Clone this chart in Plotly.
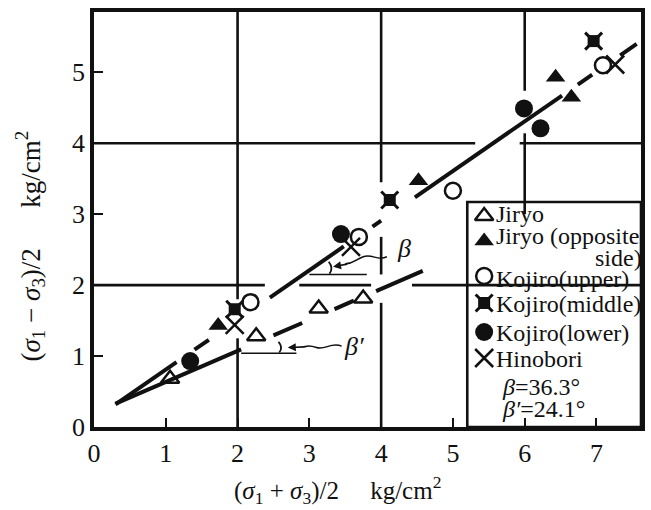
import plotly.graph_objects as go

# ---------------- data ----------------
jiryo_x = [1.06, 2.26, 3.13, 3.75]
jiryo_y = [0.68, 1.28, 1.67, 1.81]

jiryo_opp_x = [1.73, 4.52, 6.43, 6.65]
jiryo_opp_y = [1.43, 3.47, 4.93, 4.65]

kojiro_upper_x = [2.18, 3.69, 5.00, 7.09]
kojiro_upper_y = [1.76, 2.68, 3.33, 5.10]

kojiro_middle_x = [1.96, 4.12, 6.96]
kojiro_middle_y = [1.66, 3.20, 5.44]

kojiro_lower_x = [1.34, 3.44, 5.99, 6.22]
kojiro_lower_y = [0.93, 2.72, 4.49, 4.21]

hinobori_x = [1.96, 3.58, 7.26]
hinobori_y = [1.44, 2.54, 5.11]

# fitted lines (end points) and their drawn pieces
upper_line_x = [0.30, 7.56]
upper_line_y = [0.32, 5.40]
upper_pieces = [(0.30, 1.15), (1.40, 1.60), (2.45, 3.48), (3.88, 4.00),
                (4.47, 6.52), (6.74, 6.94), (7.33, 7.56)]

lower_line_x = [0.30, 4.58]
lower_line_y = [0.33, 2.20]
lower_pieces = [(0.30, 2.05), (2.50, 2.90), (3.35, 3.62), (3.93, 4.58)]

x_ticks = [0, 1, 2, 3, 4, 5, 6, 7]
y_ticks = [0, 1, 2, 3, 4, 5]

legend_labels = ["Jiryo", "Jiryo (opposite", "Kojiro(upper)", "Kojiro(middle)",
                 "Kojiro(lower)", "Hinobori"]
beta_text = "<i>β</i>=36.3°"
beta2_text = "<i>β′</i>=24.1°"

FONT = "Liberation Serif, Times New Roman, DejaVu Serif, serif"
BLACK = "#111111"
NB = "\u00a0"


def line_y(xs, ys, x):
    return ys[0] + (ys[1] - ys[0]) * (x - xs[0]) / (xs[1] - xs[0])


fig = go.Figure()

# regression lines, drawn piecewise (broken line as in the original)
for xs, ys, pieces in [(upper_line_x, upper_line_y, upper_pieces),
                       (lower_line_x, lower_line_y, lower_pieces)]:
    px, py = [], []
    for a, b in pieces:
        px += [a, b, None]
        py += [line_y(xs, ys, a), line_y(xs, ys, b), None]
    fig.add_trace(go.Scatter(x=px, y=py, mode="lines",
                             line=dict(color=BLACK, width=4),
                             showlegend=False, hoverinfo="skip"))

fig.add_trace(go.Scatter(x=jiryo_x, y=jiryo_y, mode="markers", showlegend=False,
                         marker=dict(symbol="triangle-up-open", size=16,
                                     line=dict(color=BLACK, width=2.5), color=BLACK)))
fig.add_trace(go.Scatter(x=jiryo_opp_x, y=jiryo_opp_y, mode="markers", showlegend=False,
                         marker=dict(symbol="triangle-up", size=17, color=BLACK,
                                     line=dict(width=0))))
fig.add_trace(go.Scatter(x=kojiro_upper_x, y=kojiro_upper_y, mode="markers", showlegend=False,
                         marker=dict(symbol="circle", size=16, color="white",
                                     line=dict(color=BLACK, width=2.5))))
fig.add_trace(go.Scatter(x=kojiro_middle_x, y=kojiro_middle_y, mode="markers", showlegend=False,
                         marker=dict(symbol="x-thin-open", size=17,
                                     line=dict(color=BLACK, width=3), color=BLACK)))
fig.add_trace(go.Scatter(x=kojiro_middle_x, y=kojiro_middle_y, mode="markers", showlegend=False,
                         marker=dict(symbol="square", size=12, color=BLACK,
                                     line=dict(width=0))))
fig.add_trace(go.Scatter(x=kojiro_lower_x, y=kojiro_lower_y, mode="markers", showlegend=False,
                         marker=dict(symbol="circle", size=18, color=BLACK,
                                     line=dict(width=0))))
fig.add_trace(go.Scatter(x=hinobori_x, y=hinobori_y, mode="markers", showlegend=False,
                         marker=dict(symbol="x-thin-open", size=18,
                                     line=dict(color=BLACK, width=2.5), color=BLACK)))

# ---------------- hand-drawn legend (on an overlay axis 0..1) ----------------
W, H, L, B = 551.0, 415.0, 94.0, 427.0


def ppx(x):
    return (x - L) / W


def ppy(y):
    return (B - y) / H


leg_mx = ppx(487)
leg_rows = [ppy(216), ppy(241), ppy(276), ppy(303), ppy(332), ppy(358)]
leg_syms = [dict(symbol="triangle-up-open", size=16, color=BLACK, line=dict(color=BLACK, width=2.5)),
            dict(symbol="triangle-up", size=17, color=BLACK, line=dict(width=0)),
            dict(symbol="circle", size=16, color="white", line=dict(color=BLACK, width=2.5)),
            dict(symbol="square", size=12, color=BLACK, line=dict(width=0)),
            dict(symbol="circle", size=18, color=BLACK, line=dict(width=0)),
            dict(symbol="x-thin-open", size=18, color=BLACK, line=dict(color=BLACK, width=2.5))]
for yv, sym in zip(leg_rows, leg_syms):
    fig.add_trace(go.Scatter(x=[leg_mx], y=[yv], mode="markers", marker=sym,
                             xaxis="x2", yaxis="y2", showlegend=False, hoverinfo="skip"))
fig.add_trace(go.Scatter(x=[leg_mx], y=[leg_rows[3]], mode="markers",
                         marker=dict(symbol="x-thin-open", size=17, color=BLACK,
                                     line=dict(color=BLACK, width=3)),
                         xaxis="x2", yaxis="y2", showlegend=False, hoverinfo="skip"))

annotations = []
LEGF = 24
text_rows = [214, 236, 279, 304, 333, 359]
for lab, ty in zip(legend_labels, text_rows):
    annotations.append(dict(x=ppx(497), y=ppy(ty), xref="paper", yref="paper",
                            text=lab, showarrow=False, xanchor="left", yanchor="middle",
                            font=dict(family=FONT, size=LEGF, color=BLACK)))
annotations.append(dict(x=ppx(648), y=ppy(258), xref="paper", yref="paper",
                        text="side)", showarrow=False, xanchor="right", yanchor="middle",
                        font=dict(family=FONT, size=LEGF, color=BLACK)))
annotations.append(dict(x=ppx(503), y=ppy(387), xref="paper", yref="paper",
                        text=beta_text, showarrow=False, xanchor="left", yanchor="middle",
                        font=dict(family=FONT, size=24, color=BLACK)))
annotations.append(dict(x=ppx(503), y=ppy(409), xref="paper", yref="paper",
                        text=beta2_text, showarrow=False, xanchor="left", yanchor="middle",
                        font=dict(family=FONT, size=24, color=BLACK)))

# beta labels in the plot
annotations.append(dict(x=4.32, y=2.52, xref="x", yref="y", text="<i>β</i>",
                        showarrow=False, font=dict(family=FONT, size=26, color=BLACK)))
annotations.append(dict(x=3.62, y=1.13, xref="x", yref="y", text="<i>β′</i>",
                        showarrow=False, font=dict(family=FONT, size=26, color=BLACK)))
# arrow heads
annotations.append(dict(x=3.33, y=2.26, ax=3.55, ay=2.30, xref="x", yref="y",
                        axref="x", ayref="y", text="", showarrow=True,
                        arrowhead=2, arrowsize=1, arrowwidth=1.6, arrowcolor=BLACK))
annotations.append(dict(x=2.70, y=1.12, ax=2.95, ay=1.13, xref="x", yref="y",
                        axref="x", ayref="y", text="", showarrow=True,
                        arrowhead=2, arrowsize=1, arrowwidth=1.6, arrowcolor=BLACK))

# axis titles
annotations.append(dict(x=ppx(339), y=ppy(490), xref="paper", yref="paper",
                        xanchor="center", yanchor="middle",
                        text="(<i>σ</i><sub>1</sub> + <i>σ</i><sub>3</sub>)/2" + NB * 5 + "kg/cm<sup>2</sup>",
                        showarrow=False, font=dict(family=FONT, size=25, color=BLACK)))
annotations.append(dict(x=ppx(30), y=ppy(246), xref="paper", yref="paper", textangle=-90,
                        xanchor="center", yanchor="middle",
                        text="(<i>σ</i><sub>1</sub>" + NB + "−" + NB + "<i>σ</i><sub>3</sub>)/2" + NB * 6 + "kg/cm<sup>2</sup>",
                        showarrow=False, font=dict(family=FONT, size=27, color=BLACK)))

# ---------------- broken grid lines, reference lines, legend frame ----------------
shapes = []
GW = 2.6
for x0, ys in [(2, [(0, 1.25), (1.80, 6)]),
               (4, [(0, 1.75), (2.15, 2.68), (3.45, 6)]),
               (6, [(3.0, 4.14), (4.74, 6)])]:
    for a, b in ys:
        shapes.append(dict(type="line", xref="x", yref="y", x0=x0, x1=x0, y0=a, y1=b,
                           line=dict(color=BLACK, width=GW), layer="below"))
for y0, xs in [(2, [(0, 2.38), (2.86, 3.86), (4.43, 7.7)]),
               (4, [(0, 5.31), (5.93, 7.7)])]:
    for a, b in xs:
        shapes.append(dict(type="line", xref="x", yref="y", x0=a, x1=b, y0=y0, y1=y0,
                           line=dict(color=BLACK, width=GW), layer="below"))
# angle reference lines and arcs
shapes.append(dict(type="line", xref="x", yref="y", x0=3.0, x1=3.8, y0=2.15, y1=2.15,
                   line=dict(color=BLACK, width=1.6)))
shapes.append(dict(type="line", xref="x", yref="y", x0=2.05, x1=2.82, y0=1.04, y1=1.04,
                   line=dict(color=BLACK, width=1.6)))
shapes.append(dict(type="path", xref="x", yref="y",
                   path="M 3.28,2.16 Q 3.34,2.24 3.27,2.33",
                   line=dict(color=BLACK, width=1.8)))
shapes.append(dict(type="path", xref="x", yref="y",
                   path="M 2.58,1.05 Q 2.64,1.12 2.57,1.2",
                   line=dict(color=BLACK, width=1.8)))
# wavy arrow tails
shapes.append(dict(type="path", xref="x", yref="y",
                   path="M 4.08,2.40 C 3.95,2.33 3.88,2.45 3.75,2.40 S 3.62,2.30 3.50,2.30",
                   line=dict(color=BLACK, width=1.5)))
shapes.append(dict(type="path", xref="x", yref="y",
                   path="M 3.45,1.14 C 3.30,1.20 3.22,1.08 3.10,1.12 S 3.00,1.14 2.92,1.13",
                   line=dict(color=BLACK, width=1.5)))
# legend frame
shapes.append(dict(type="rect", xref="paper", yref="paper", x0=ppx(470), x1=1.0,
                   y0=0, y1=ppy(202), fillcolor="white",
                   line=dict(color=BLACK, width=2.6), layer="below"))

axis_common = dict(showgrid=False, zeroline=False, showline=True, mirror=True,
                   linecolor=BLACK, linewidth=3.5, ticks="inside", ticklen=9,
                   tickwidth=2.2, tickcolor=BLACK,
                   tickfont=dict(family=FONT, size=26, color=BLACK))

fig.update_layout(
    width=651, height=510,
    margin=dict(l=94, r=6, t=12, b=83),
    paper_bgcolor="white", plot_bgcolor="white",
    showlegend=False,
    font=dict(family=FONT, color=BLACK),
    xaxis=dict(range=[0, 7.62], tickvals=x_ticks, ticktext=[str(v) for v in x_ticks],
               ticklabelstandoff=0, **axis_common),
    yaxis=dict(range=[0, 5.85], tickvals=y_ticks, ticktext=[str(v) for v in y_ticks],
               ticklabelstandoff=0, **axis_common),
    xaxis2=dict(range=[0, 1], overlaying="x", visible=False, domain=[0, 1]),
    yaxis2=dict(range=[0, 1], overlaying="y", visible=False, domain=[0, 1]),
    annotations=annotations,
    shapes=shapes,
)

fig.write_html("out.html")
